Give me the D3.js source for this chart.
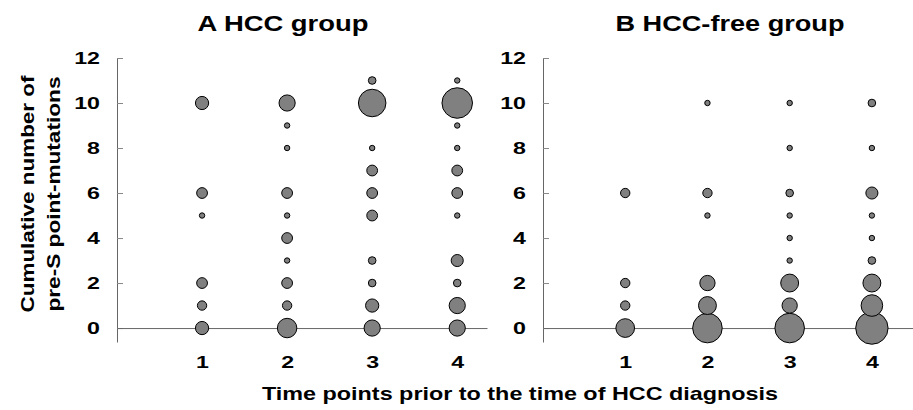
<!DOCTYPE html>
<html>
<head>
<meta charset="utf-8">
<script src="https://cdn.jsdelivr.net/npm/d3@7"></script>
<style>
  body { margin: 0; background: #fff; }
  text { font-family: "Liberation Sans", Arial, sans-serif; font-weight: bold; fill: #000; }
</style>
</head>
<body>
<script>
// number of pre-S point-mutations (bubble rows)
const mutations = [0, 1, 2, 3, 4, 5, 6, 7, 8, 9, 10, 11];
const timePoints = [1, 2, 3, 4];
const yTicks = [0, 2, 4, 6, 8, 10, 12];

// patient counts per mutation level, HCC group, time points 1..4
const hccT1 = [6, 3, 4, 0, 0, 1, 4, 0, 0, 0, 6, 0];
const hccT2 = [13, 3, 4, 1, 4, 1, 4, 0, 1, 1, 9, 0];
const hccT3 = [9, 6, 2, 2, 0, 4, 4, 4, 1, 0, 26, 2];
const hccT4 = [9, 9, 2, 5, 0, 1, 4, 4, 1, 1, 32, 1];

// patient counts per mutation level, HCC-free group
const freeT1 = [12, 3, 3, 0, 0, 0, 3, 0, 0, 0, 0, 0];
const freeT2 = [30, 11, 8, 0, 0, 1, 3, 0, 0, 0, 1, 0];
const freeT3 = [30, 8, 11, 1, 1, 1, 2, 0, 1, 0, 1, 0];
const freeT4 = [36, 16, 11, 2, 1, 1, 5, 0, 1, 0, 2, 0];

function main(){
    const svg = d3.select("body").append("svg")
        .attr("width", 913)
        .attr("height", 410);

    const r = d3.scaleSqrt().domain([0, 36]).range([0, 16.2]);

    const y = d3.scaleLinear()
        .domain([-0.62, 12])
        .range([342, 58]);

    const sx = 1.45; // labels in the original are drawn wide

    function panel(x0, x1, xMax, title, titleX, titleW, series){
        const x = d3.scaleLinear().domain([0, xMax]).range([x0, x1]);

        svg.append("text")
            .attr("x", titleX)
            .attr("y", 31)
            .attr("text-anchor", "middle")
            .style("font-size", "22px")
            .attr("textLength", titleW)
            .attr("lengthAdjust", "spacingAndGlyphs")
            .text(title);

        // y axis, ticks pointing inwards, labels added by hand in each tick
        const ya = svg.append("g")
            .attr("transform", "translate(" + x0 + ",0)")
            .call(d3.axisLeft(y).tickValues(yTicks).tickSize(-6).tickSizeOuter(0).tickFormat(""));
        ya.select(".domain").attr("stroke", "#666");
        ya.selectAll(".tick line").attr("stroke", "#888");
        ya.selectAll(".tick text").remove();
        ya.selectAll(".tick").append("text")
            .attr("transform", "translate(-17,0) scale(" + sx + ",1)")
            .attr("dy", "0.35em")
            .attr("text-anchor", "end")
            .style("font-size", "16px")
            .text(d => d);

        // x axis along y = 0
        const xa = svg.append("g")
            .attr("transform", "translate(0," + y(0) + ")")
            .call(d3.axisBottom(x).tickValues(timePoints).tickSize(0).tickSizeOuter(0).tickFormat(""));
        xa.select(".domain").attr("stroke", "#666");
        xa.selectAll(".tick text").remove();
        xa.selectAll(".tick").append("text")
            .attr("transform", "translate(0,40) scale(" + sx + ",1)")
            .attr("text-anchor", "middle")
            .style("font-size", "16px")
            .text(d => d);

        const pts = [];
        series.forEach((counts, i) => {
            counts.forEach((c, m) => {
                if (c > 0) pts.push({t: timePoints[i], m: mutations[m], n: c});
            });
        });
        pts.sort((a, b) => b.n - a.n);

        svg.append("g").selectAll("circle")
            .data(pts)
            .join("circle")
                .attr("cx", d => x(d.t))
                .attr("cy", d => y(d.m))
                .attr("r", d => r(d.n))
                .attr("fill", "#808080")
                .attr("stroke", "#000")
                .attr("stroke-width", 1);
    }

    panel(117, 487, 4.35, "A HCC group", 283, 171, [hccT1, hccT2, hccT3, hccT4]);
    panel(543, 913, 4.5, "B HCC-free group", 730, 229, [freeT1, freeT2, freeT3, freeT4]);

    // y axis title, two lines
    const yt = [["Cumulative number of", 34, 237], ["pre-S point-mutations", 60, 235]];
    yt.forEach(l => {
        svg.append("text")
            .attr("transform", "translate(" + l[1] + ",194) rotate(-90)")
            .attr("text-anchor", "middle")
            .style("font-size", "18px")
            .attr("textLength", l[2])
            .attr("lengthAdjust", "spacingAndGlyphs")
            .text(l[0]);
    });

    // x axis title
    svg.append("text")
        .attr("x", 520)
        .attr("y", 400)
        .attr("text-anchor", "middle")
        .style("font-size", "19px")
        .attr("textLength", 516)
        .attr("lengthAdjust", "spacingAndGlyphs")
        .text("Time points prior to the time of HCC diagnosis");
}
main();
</script>
</body>
</html>
